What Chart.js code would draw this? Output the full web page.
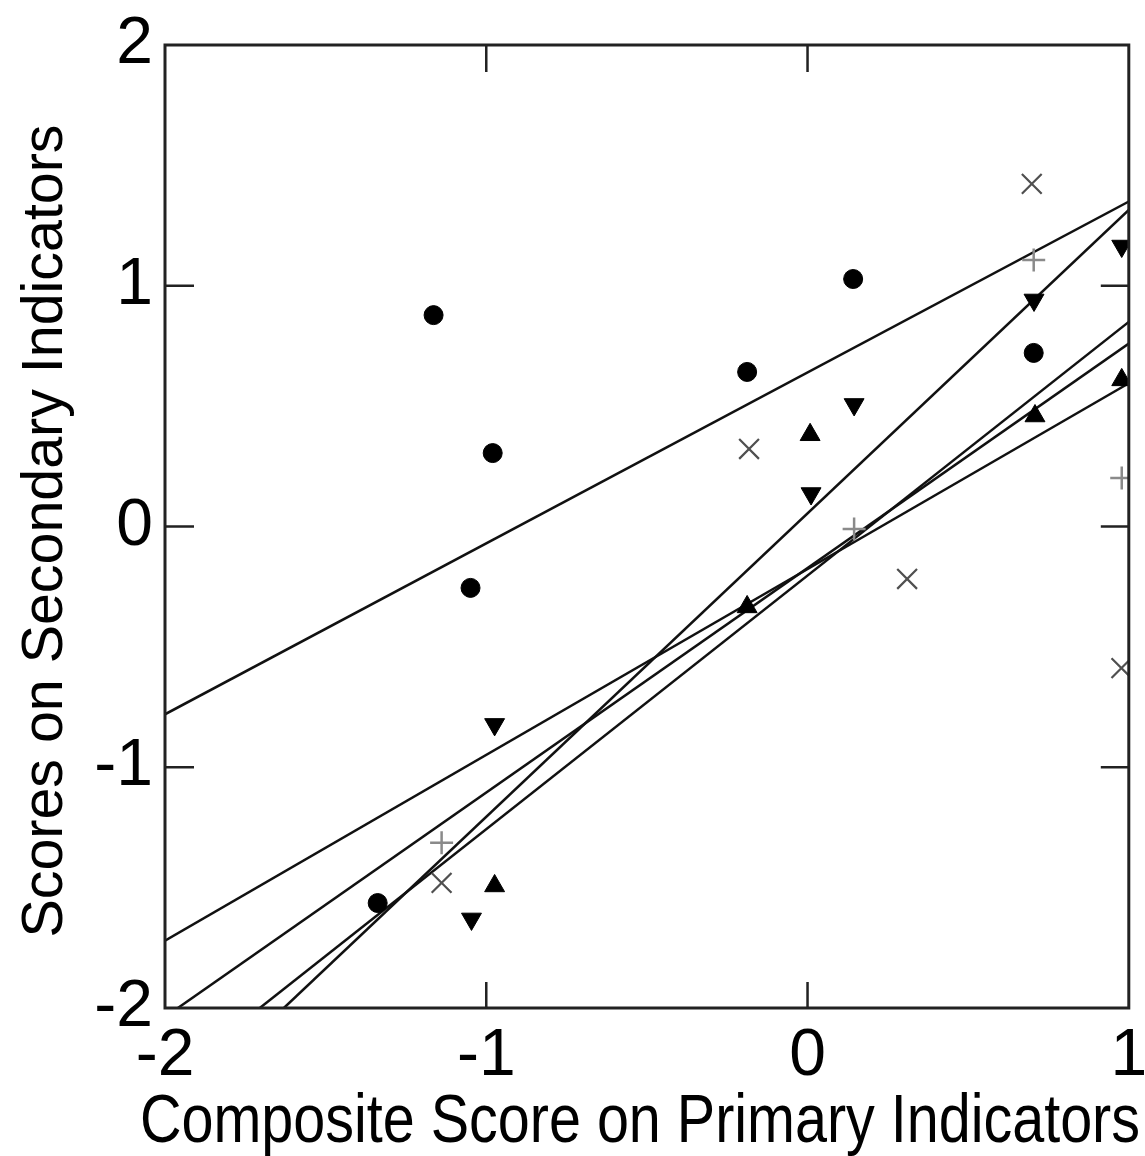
<!DOCTYPE html>
<html>
<head>
<meta charset="utf-8">
<script src="https://cdn.jsdelivr.net/npm/chart.js@4.4.1/dist/chart.umd.min.js"></script>
<style>
  html, body { margin: 0; padding: 0; background: #ffffff; }
  canvas { display: block; }
</style>
</head>
<body>
<canvas id="grafico" width="1145" height="1156"></canvas>
<script>
// filled circles
const circleX = [-1.164, -0.980, -1.049, -0.188, 0.142, 0.704, -1.338];
const circleY = [0.878, 0.305, -0.255, 0.642, 1.028, 0.721, -1.564];

// filled triangles pointing down
const downX = [0.705, 0.978, 0.145, 0.011, -0.974, -1.046];
const downY = [0.941, 1.165, 0.507, 0.137, -0.822, -1.630];

// filled triangles pointing up
const upX = [0.008, 0.708, 0.978, -0.974, -0.188];
const upY = [0.381, 0.459, 0.609, -1.493, -0.334];

// plus signs
const plusX = [0.704, 0.978, 0.145, -1.139];
const plusY = [1.107, 0.201, -0.010, -1.314];

// x signs
const timesX = [0.698, -0.182, 0.310, 0.977, -1.139];
const timesY = [1.423, 0.322, -0.218, -0.588, -1.480];

// fitted lines, two end points each
const fitLines = [
    { x: [-2, 1], y: [-0.78, 1.35] },
    { x: [-1.63, 1], y: [-2, 1.315] },
    { x: [-2, 1], y: [-1.72, 0.595] },
    { x: [-1.96, 1], y: [-2, 0.76] },
    { x: [-1.705, 1], y: [-2, 0.85] }
];

const xTicks = [-2, -1, 0, 1];
const xTickLabels = ["-2", "-1", "0", "1"];
const yTicks = [2, 1, 0, -1, -2];
const yTickLabels = ["2", "1", "0", "-1", "-2"];
const xInnerTicks = [-1, 0];
const yInnerTicks = [1, 0, -1];

const xTitle = "Composite Score on Primary Indicators";
const yTitle = "Scores on Secondary Indicators";

const pares = (xs, ys) => xs.map((v, i) => ({ x: v, y: ys[i] }));

const molduraPlugin = {
    id: "moldura",
    afterDraw(chart) {
        const { ctx, chartArea: a, scales } = chart;
        const sx = scales.x;
        const sy = scales.y;

        ctx.save();
        ctx.strokeStyle = "#222222";
        ctx.lineWidth = 3;
        ctx.strokeRect(a.left, a.top, a.right - a.left, a.bottom - a.top);

        ctx.lineWidth = 2.5;
        ctx.beginPath();
        xInnerTicks.forEach(v => {
            const px = sx.getPixelForValue(v);
            ctx.moveTo(px, a.bottom);
            ctx.lineTo(px, a.bottom - 26);
            ctx.moveTo(px, a.top);
            ctx.lineTo(px, a.top + 27);
        });
        yInnerTicks.forEach(v => {
            const py = sy.getPixelForValue(v);
            ctx.moveTo(a.left, py);
            ctx.lineTo(a.left + 29, py);
            ctx.moveTo(a.right, py);
            ctx.lineTo(a.right - 28, py);
        });
        ctx.stroke();

        ctx.fillStyle = "#000000";
        ctx.font = '66px "Liberation Sans", Arial, sans-serif';
        ctx.textBaseline = "alphabetic";

        ctx.textAlign = "center";
        xTicks.forEach((v, i) => {
            ctx.fillText(xTickLabels[i], sx.getPixelForValue(v), a.bottom + 67);
        });

        ctx.textAlign = "right";
        yTicks.forEach((v, i) => {
            ctx.fillText(yTickLabels[i], a.left - 12, sy.getPixelForValue(v) + 18);
        });

        // x title is condensed in the reference
        ctx.font = '68px "Liberation Sans Narrow", "Liberation Sans", sans-serif';
        ctx.textAlign = "center";
        let w = ctx.measureText(xTitle).width;
        ctx.save();
        ctx.translate(640, 1142);
        ctx.scale(1000 / w, 1);
        ctx.fillText(xTitle, 0, 0);
        ctx.restore();

        ctx.font = '58px "Liberation Sans", Arial, sans-serif';
        w = ctx.measureText(yTitle).width;
        ctx.save();
        ctx.translate(62, 531);
        ctx.rotate(-Math.PI / 2);
        ctx.scale(813 / w, 1);
        ctx.fillText(yTitle, 0, 0);
        ctx.restore();

        ctx.restore();
    }
};

const marcador = (data, estilo) => Object.assign({
    data,
    showLine: false,
    order: 1
}, estilo);

const datasets = [
    marcador(pares(circleX, circleY), {
        pointStyle: "circle", pointRadius: 9.5,
        pointBackgroundColor: "#000000", pointBorderColor: "#000000", pointBorderWidth: 1
    }),
    marcador(pares(downX, downY), {
        pointStyle: "triangle", pointRotation: 180, pointRadius: 11.5,
        pointBackgroundColor: "#000000", pointBorderColor: "#000000", pointBorderWidth: 1
    }),
    marcador(pares(upX, upY), {
        pointStyle: "triangle", pointRadius: 11.5,
        pointBackgroundColor: "#000000", pointBorderColor: "#000000", pointBorderWidth: 1
    }),
    marcador(pares(plusX, plusY), {
        pointStyle: "cross", pointRadius: 11.5,
        pointBorderColor: "#8a8a8a", pointBorderWidth: 2.5
    }),
    marcador(pares(timesX, timesY), {
        pointStyle: "crossRot", pointRadius: 14,
        pointBorderColor: "#505050", pointBorderWidth: 2.2
    })
];

fitLines.forEach(l => {
    datasets.push({
        data: pares(l.x, l.y),
        showLine: true,
        pointRadius: 0,
        borderColor: "#111111",
        borderWidth: 2.5,
        fill: false,
        order: 2
    });
});

new Chart(document.getElementById("grafico").getContext("2d"), {
    type: "scatter",
    data: { datasets },
    plugins: [molduraPlugin],
    options: {
        responsive: false,
        animation: false,
        devicePixelRatio: 1,
        events: [],
        layout: {
            padding: { top: 45, right: 15, bottom: 148, left: 165 }
        },
        plugins: {
            legend: { display: false },
            tooltip: { enabled: false }
        },
        scales: {
            x: { type: "linear", min: -2, max: 1, display: false },
            y: { type: "linear", min: -2, max: 2, display: false }
        }
    }
});
</script>
</body>
</html>
